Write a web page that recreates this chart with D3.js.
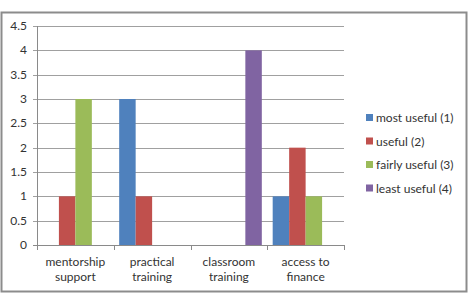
<!DOCTYPE html>
<html><head><meta charset="utf-8">
<script src="https://cdn.jsdelivr.net/npm/d3@7/dist/d3.min.js"></script>
<style>body{margin:0;background:#fff}svg{display:block}</style>
</head><body>
<script>
const categories = [["mentorship","support"],["practical","training"],["classroom","training"],["access to","finance"]];
const seriesNames = ["most useful (1)","useful (2)","fairly useful (3)","least useful (4)"];
const seriesColors = ["#4F81BD","#C0504D","#9BBB59","#8064A2"];
const values = [
  [0,1,3,0],
  [3,1,0,0],
  [0,0,0,4],
  [1,2,1,0]
];
const yTicks = [0,0.5,1,1.5,2,2.5,3,3.5,4,4.5];

const W=470,H=294;
const svg=d3.select("body").append("svg").attr("width",W).attr("height",H);
const font="Lato, 'Open Sans', sans-serif";
svg.append("rect").attr("x",1.5).attr("y",12.5).attr("width",465).attr("height",279)
  .attr("fill","#fff").attr("stroke","#8c8c8c").attr("stroke-width",2);

const L=37,R=344,T=26,B=245;
const x0=d3.scaleBand().domain(d3.range(categories.length)).range([L,R]).paddingInner(0).paddingOuter(0);
const x1=d3.scaleBand().domain(d3.range(seriesNames.length)).range([0,x0.bandwidth()]).paddingOuter(0.33).paddingInner(0);
const y=d3.scaleLinear().domain([0,4.5]).range([B,T]);

const g=svg.append("g");
g.selectAll("line.grid").data(yTicks).enter().append("line")
  .attr("x1",L-4).attr("x2",R).attr("y1",d=>Math.round(y(d))+0.5).attr("y2",d=>Math.round(y(d))+0.5)
  .attr("stroke",d=>d===0?"#8a8a8a":"#a0a0a0").attr("stroke-width",1);
g.append("line").attr("x1",L+0.5).attr("x2",L+0.5).attr("y1",T).attr("y2",B).attr("stroke","#8a8a8a");
g.selectAll("text.yl").data(yTicks).enter().append("text")
  .attr("x",L-10).attr("y",d=>y(d)+4).attr("text-anchor","end")
  .attr("font-family",font).attr("font-size",12).attr("fill","#333").text(d=>d);
// category ticks
g.selectAll("line.ct").data(d3.range(categories.length+1)).enter().append("line")
  .attr("x1",d=>Math.round(L+d*x0.bandwidth())+0.5).attr("x2",d=>Math.round(L+d*x0.bandwidth())+0.5)
  .attr("y1",B).attr("y2",B+5).attr("stroke","#8a8a8a");

categories.forEach((c,i)=>{
  values[i].forEach((v,s)=>{
    if(v>0) g.append("rect").attr("x",x0(i)+x1(s)).attr("width",x1.bandwidth())
      .attr("y",y(v)).attr("height",y(0)-y(v)).attr("fill",seriesColors[s]);
  });
  const t=g.append("text").attr("x",x0(i)+x0.bandwidth()/2).attr("text-anchor","middle")
    .attr("font-family",font).attr("font-size",12).attr("fill","#333");
  c.forEach((line,k)=>t.append("tspan").attr("x",x0(i)+x0.bandwidth()/2).attr("y",266+k*15).text(line));
});

const lg=svg.append("g");
seriesNames.forEach((n,s)=>{
  const yy=118+s*23.5;
  lg.append("rect").attr("x",366).attr("y",yy-4).attr("width",7).attr("height",7).attr("fill",seriesColors[s]);
  lg.append("text").attr("x",376).attr("y",yy+4).attr("font-family",font).attr("font-size",12).attr("fill","#333").text(n);
});
</script>
</body></html>
